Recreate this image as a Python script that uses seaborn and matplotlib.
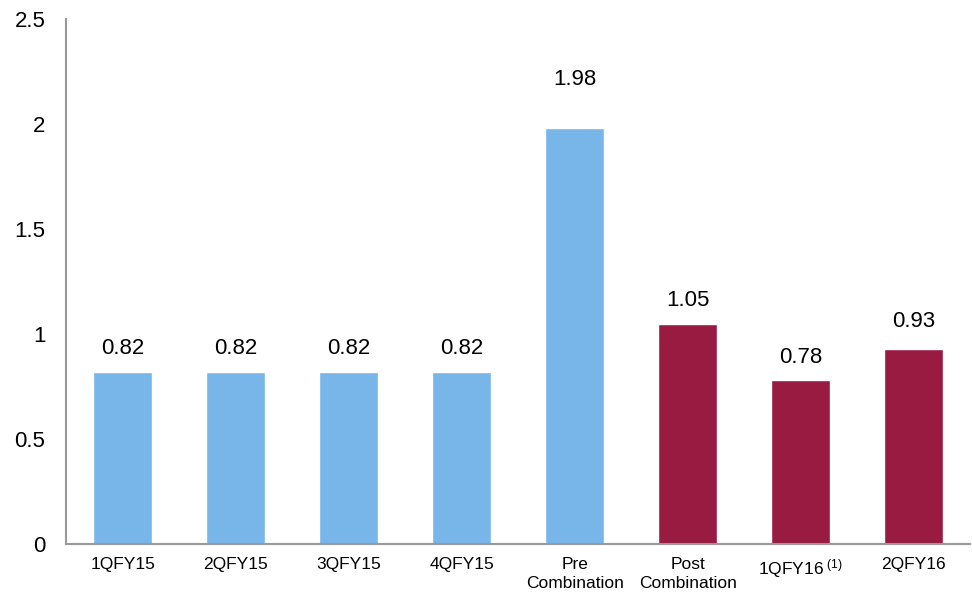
import numpy as np
import pandas as pd
import matplotlib
matplotlib.use('Agg')
import matplotlib.pyplot as plt
import seaborn as sns

# Data
categories = ['1QFY15', '2QFY15', '3QFY15', '4QFY15', 'Pre\nCombination',
              'Post\nCombination', '1QFY16$^{\\ (1)}$', '2QFY16']
values = [0.82, 0.82, 0.82, 0.82, 1.98, 1.05, 0.78, 0.93]
period = ['pre', 'pre', 'pre', 'pre', 'pre', 'post', 'post', 'post']
palette = {'pre': '#78B5E9', 'post': '#9A1B42'}
# label gap above each bar (the tall bar's label sits higher in the original)
label_gap = [0.11, 0.11, 0.11, 0.11, 0.23, 0.11, 0.11, 0.13]

sns.set_style('white')
plt.rcParams['font.family'] = ['Liberation Sans', 'DejaVu Sans']
plt.rcParams['mathtext.fontset'] = 'custom'
plt.rcParams['mathtext.rm'] = 'Liberation Sans'
plt.rcParams['mathtext.it'] = 'Liberation Sans'
plt.rcParams['text.color'] = 'black'
plt.rcParams['xtick.color'] = 'black'
plt.rcParams['ytick.color'] = 'black'

df = pd.DataFrame({'category': categories, 'value': values, 'period': period})

fig = plt.figure(figsize=(9.72, 5.94), dpi=100)
ax = fig.add_axes([0.068, 0.084, 0.93, 0.884])

sns.barplot(data=df, x='category', y='value', hue='period', palette=palette,
            dodge=False, width=0.52, legend=False, ax=ax, saturation=1)

for i, v in enumerate(values):
    ax.text(i, v + label_gap[i], f'{v:.2f}', ha='center', va='center', fontsize=16)

ax.set_xlim(-0.5, 7.5)
ax.set_ylim(0, 2.5)
ax.set_yticks([0, 0.5, 1, 1.5, 2, 2.5])
ax.set_yticklabels(['0', '0.5', '1', '1.5', '2', '2.5'], fontsize=16)
ax.set_xlabel('')
ax.set_ylabel('')
for lbl in ax.get_xticklabels():
    lbl.set_linespacing(1.35)

# tick marks sit between categories
ax.set_xticks(np.arange(-0.5, 8, 1), minor=True)
ax.tick_params(axis='x', which='major', length=0, labelsize=12.5, pad=9)
ax.tick_params(axis='x', which='minor', length=5, width=1.3, color='#999999', direction='out')
ax.tick_params(axis='y', length=5, width=1.3, color='#999999', labelcolor='black',
               direction='out', pad=10)

sns.despine(ax=ax)
for s in ['left', 'bottom']:
    ax.spines[s].set_color('#999999')
    ax.spines[s].set_linewidth(1.5)

fig.savefig('out.png', dpi=100)
